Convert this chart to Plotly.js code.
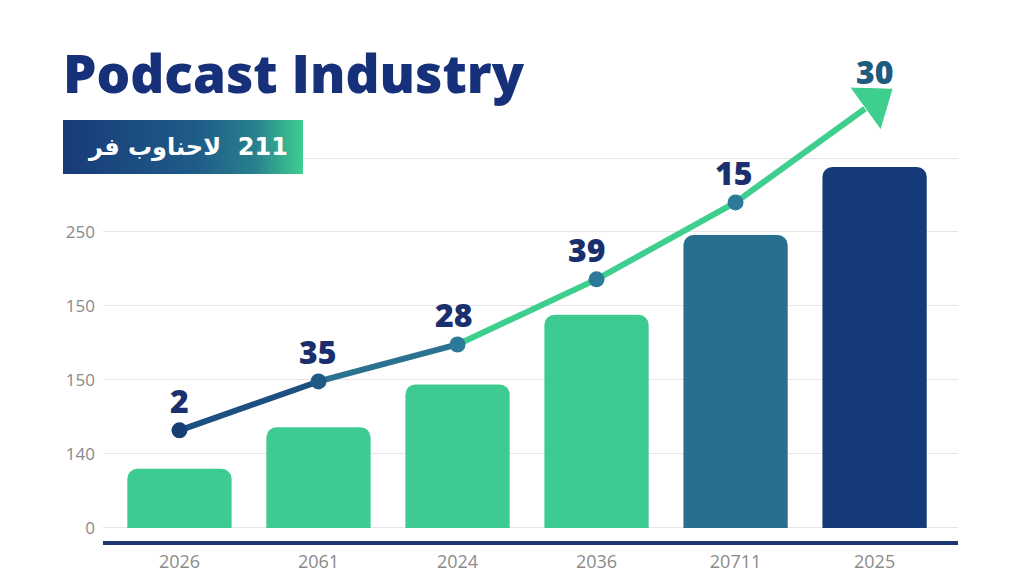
<!DOCTYPE html>
<html>
<head>
<meta charset="utf-8">
<script src="https://cdn.plot.ly/plotly-3.0.1.min.js"></script>
<style>html,body{margin:0;padding:0;background:#fff;}#chart{width:1024px;height:585px;}</style>
</head>
<body>
<div id="chart"></div>
<script>
// ---- data ----
const categories = ["2026", "2061", "2024", "2036", "20711", "2025"];
const barValues = [40, 68, 97, 144, 198, 244];
const lineValues = [66, 99, 124, 168, 220, 288];
const pointLabels = ["2", "35", "28", "39", "15", "30"];
const yTickVals = [0, 50, 100, 150, 200, 250];
const yTickText = ["0", "140", "150", "150", "250", ""];
const titleText = "Podcast Industry";
const badgeText = "لاحناوب فر \u200E 211";

// ---- styles ----
const barColors = ["#3ecb91", "#3ecb91", "#3ecb91", "#3ecb91", "#276e8f", "#143a7a"];
const segColors = ["#1d4f80", "#2b7290", "#3ecf8e", "#3ecf8e", "#3ecf8e"];
const markerColors = ["#163d74", "#1f5a85", "#2d7a98", "#2d7a98", "#2a7a98"];
const labelColors = ["#1a2f6e", "#1a2f6e", "#1a2f6e", "#1a2f6e", "#1a2f6e", "#1e5b7d"];
const labelXShift = [0, 0, -4, -10, -2, 0];

const traces = [];
traces.push({
  type: "bar", x: categories, y: barValues,
  marker: {color: barColors, cornerradius: 10, line: {width: 0}},
  width: 0.75, hoverinfo: "skip", showlegend: false
});
for (let i = 0; i < lineValues.length - 1; i++) {
  const last = (i === lineValues.length - 2);
  const tr = {
    type: "scatter", x: [categories[i], categories[i + 1]], y: [lineValues[i], lineValues[i + 1]],
    mode: last ? "lines+markers" : "lines",
    line: {color: segColors[i], width: 6},
    cliponaxis: false, hoverinfo: "skip", showlegend: false
  };
  if (last) tr.marker = {symbol: "triangle-up", angleref: "previous", size: [0, 46], color: "#3ecf8e", opacity: 1};
  traces.push(tr);
}
traces.push({
  type: "scatter", x: categories.slice(0, 5), y: lineValues.slice(0, 5), mode: "markers",
  marker: {color: markerColors, size: 16, opacity: 1}, cliponaxis: false, hoverinfo: "skip", showlegend: false
});

const annotations = pointLabels.map((t, i) => ({
  x: i, y: lineValues[i], text: t, showarrow: false,
  yshift: 30, xshift: labelXShift[i], yanchor: "middle",
  font: {family: "'Open Sans', Inter, sans-serif", size: 32, weight: 800, color: labelColors[i]}
}));

// badge
const shapes = [];
const bx0 = -0.0468, bx1 = 0.2339, by0 = 0.8031, by1 = 0.9212;
const stops = [[0, [23, 58, 120]], [0.55, [31, 91, 136]], [0.8, [39, 128, 142]], [1, [62, 207, 142]]];
function gradColor(t) {
  for (let k = 0; k < stops.length - 1; k++) {
    const a = stops[k], b = stops[k + 1];
    if (t <= b[0]) {
      const f = (t - a[0]) / (b[0] - a[0]);
      const c = a[1].map((v, j) => Math.round(v + (b[1][j] - v) * f));
      return "rgb(" + c.join(",") + ")";
    }
  }
  return "rgb(62,207,142)";
}
const N = 60;
for (let k = 0; k < N; k++) {
  const x0 = bx0 + (bx1 - bx0) * k / N;
  const x1 = bx0 + (bx1 - bx0) * (k + 1.3) / N;
  shapes.push({type: "rect", xref: "paper", yref: "paper", x0: x0, x1: Math.min(x1, bx1), y0: by0, y1: by1,
    fillcolor: gradColor((k + 0.5) / N), line: {width: 0}, layer: "above"});
}
annotations.push({
  xref: "paper", yref: "paper", x: (bx0 + bx1) / 2 + 0.006, y: (by0 + by1) / 2, xanchor: "center", yanchor: "middle",
  text: badgeText, showarrow: false,
  font: {family: "'DejaVu Sans', 'Noto Sans', sans-serif", size: 24, weight: 700, color: "#ffffff"}
});

const layout = {
  width: 1024, height: 585,
  margin: {l: 103, r: 66, t: 84, b: 44},
  paper_bgcolor: "#ffffff", plot_bgcolor: "#ffffff",
  title: {
    text: titleText, xref: "container", yref: "container", x: 0.0615, xanchor: "left",
    y: 1 - 74 / 585, yanchor: "middle",
    font: {family: "'Open Sans', Inter, sans-serif", size: 53, weight: 800, color: "#17307a"}
  },
  xaxis: {
    type: "category", range: [-0.55, 5.6], showgrid: false, zeroline: false,
    showline: true, linecolor: "#1b3670", linewidth: 4, ticks: "",
    tickfont: {family: "'Open Sans', sans-serif", size: 18, color: "#8a8a8a"},
    ticklabelstandoff: 1, fixedrange: true
  },
  yaxis: {
    range: [-8.8, 300], tickvals: yTickVals, ticktext: yTickText,
    showgrid: true, gridcolor: "#e6e6e6", gridwidth: 1, zeroline: false, showline: false, ticks: "",
    tickfont: {family: "'Open Sans', sans-serif", size: 17, color: "#8a8a8a"},
    ticklabelstandoff: 7, fixedrange: true
  },
  shapes: shapes,
  annotations: annotations,
  showlegend: false,
  bargap: 0.25
};

Plotly.newPlot("chart", traces, layout, {displayModeBar: false, staticPlot: true});
</script>
</body>
</html>
